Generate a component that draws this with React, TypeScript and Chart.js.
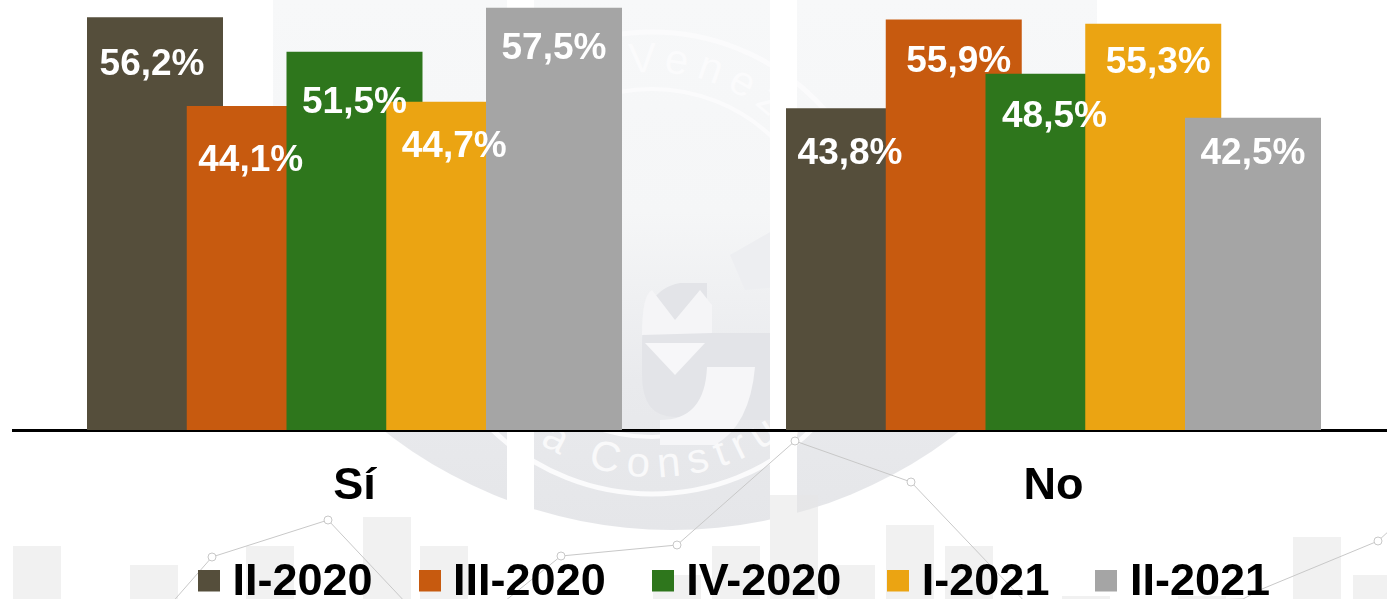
import React, { useEffect, useRef } from "react";
import { Chart, registerables } from "chart.js";

Chart.register(...registerables);

const categories = ["Sí", "No"];
const seriesNames = ["II-2020", "III-2020", "IV-2020", "I-2021", "II-2021"];
const ii2020 = [56.2, 43.8];
const iii2020 = [44.1, 55.9];
const iv2020 = [51.5, 48.5];
const i2021 = [44.7, 55.3];
const ii2021 = [57.5, 42.5];
const seriesValues = [ii2020, iii2020, iv2020, i2021, ii2021];
const seriesColors = ["#554E3B", "#C75A0F", "#2E761C", "#EBA412", "#A5A5A5"];

// hand-placed data label nudges (px from bar centre / top), one pair of arrays per series
const labelDx = [[-3, -4], [-4, 5], [0, 1], [0, 5], [0, 0]];
const labelDy = [[48, 46], [55, 42], [51, 43], [45, 39], [41, 36]];

const CANVAS_W = 1465;
const CANVAS_H = 615;
const AREA_LEFT = 13;
const GROUP_0 = 354.5;
const GROUP_STEP = 699;

const faintBars = [
  [13, 546], [130, 565], [246, 546], [363, 517], [420, 546], [653, 575], [712, 546], [770, 495],
  [827, 565], [886, 525], [945, 546], [1062, 596], [1178, 596], [1293, 537], [1353, 575],
];
const faintLine = [
  [170, 605], [212, 557], [328, 520], [408, 605], [500, 605], [561, 556], [677, 545], [795, 441],
  [911, 482], [1028, 605], [1243, 599], [1262, 589], [1378, 541], [1390, 530],
];
const faintDots = [[212, 557], [328, 520], [561, 556], [677, 545], [795, 441], [911, 482], [1378, 541]];

function swatch(color: string) {
  const c = document.createElement("canvas");
  c.width = 22;
  c.height = 26;
  const g = c.getContext("2d")!;
  g.fillStyle = color;
  g.fillRect(0, 0, 22, 22);
  return c;
}

const drawOrderAndLabels = {
  id: "drawOrderAndLabels",
  beforeDatasetsDraw(chart: any) {
    chart.getSortedVisibleDatasetMetas().forEach((m: any) => m.controller.draw());
    return false;
  },
  afterDraw(chart: any) {
    const ctx = chart.ctx;
    ctx.save();
    ctx.font = "bold 37px 'Liberation Sans'";
    ctx.fillStyle = "#FFFFFF";
    ctx.textAlign = "center";
    ctx.textBaseline = "middle";
    chart.data.datasets.forEach((ds: any, s: number) => {
      chart.getDatasetMeta(s).data.forEach((bar: any, i: number) => {
        const text = ds.data[i].y.toFixed(1).replace(".", ",") + "%";
        ctx.fillText(text, bar.x + labelDx[s][i], bar.y + labelDy[s][i]);
      });
    });
    ctx.restore();
  },
};

function Watermark() {
  return (
    <svg width={1387} height={599} style={{ position: "absolute", left: 0, top: 0 }}>
      <defs>
        <linearGradient id="wmFill" gradientUnits="userSpaceOnUse" x1="0" y1="0" x2="0" y2="530">
          <stop offset="0" stopColor="#F7F8F9" />
          <stop offset="0.4" stopColor="#F5F6F7" />
          <stop offset="0.72" stopColor="#E9EAED" />
          <stop offset="1" stopColor="#E5E6E9" />
        </linearGradient>
        <clipPath id="wmClip">
          <rect x={273} y={0} width={234} height={540} />
          <rect x={534} y={0} width={236} height={540} />
          <rect x={797} y={0} width={300} height={540} />
        </clipPath>
        <path id="wmTop" d="M 470 262 A 182 190 0 0 1 834 262" />
        <path id="wmBottom" d="M 440 262 A 215 215 0 0 0 870 262" />
      </defs>
      <g clipPath="url(#wmClip)">
        <circle cx={672} cy={62} r={468} fill="url(#wmFill)" />
        <circle cx={652} cy={263} r={231} fill="none" stroke="#FBFBFC" strokeWidth={5} />
        <circle cx={652} cy={263} r={174} fill="none" stroke="#FBFBFC" strokeWidth={4} />
        <text fontFamily="'Liberation Sans'" fontSize={42} fill="#FBFBFC" letterSpacing={9}>
          <textPath href="#wmTop" startOffset="46%">Venezuela</textPath>
        </text>
        <text fontFamily="'Liberation Sans'" fontSize={42} fill="#F9F9FA" letterSpacing={9}>
          <textPath href="#wmBottom" startOffset="32%">a Construye</textPath>
        </text>
        <path d="M 642 345 Q 642 290 680 283 L 707 283 L 707 333 L 770 333 L 770 420 L 707 420 Q 700 417 675 417 Q 642 417 642 375 Z" fill="#E3E4E8" />
        <path d="M 642 335 Q 642 295 652 290 L 675 320 L 700 290 L 712 305 L 712 333 Z" fill="#F5F5F7" />
        <path d="M 645 343 L 705 343 L 675 375 Z" fill="#F7F7F9" />
        <path d="M 707 367 L 755 367 Q 750 425 715 445 L 660 445 L 660 420 Q 705 420 707 367 Z" fill="#F6F6F8" />
        <path d="M 730 255 L 800 215 L 800 285 L 745 290 Z" fill="#EDEEF1" />
      </g>
      {faintBars.map(([x, y], i) => (
        <rect key={i} x={x} y={y} width={48} height={605 - y} fill="#E5E5E5" fillOpacity={0.55} />
      ))}
      <polyline points={faintLine.map((p) => p.join(",")).join(" ")} fill="none" stroke="#C8C8C8" strokeWidth={1} />
      {faintDots.map(([x, y], i) => (
        <circle key={i} cx={x} cy={y} r={4} fill="#FFFFFF" stroke="#C8C8C8" strokeWidth={1} />
      ))}
    </svg>
  );
}

export default function App() {
  const ref = useRef<HTMLCanvasElement>(null);

  useEffect(() => {
    document.body.style.margin = "0";
    const swatches = seriesColors.map(swatch);
    const chart = new Chart(ref.current!, {
      type: "bar",
      data: {
        datasets: seriesNames.map((name, s) => ({
          label: name,
          data: seriesValues[s].map((v, i) => ({ x: i, y: v })),
          backgroundColor: seriesColors[s],
          borderWidth: 0,
          categoryPercentage: 0.7135,
          barPercentage: 1.3634,
        })),
      },
      options: {
        responsive: false,
        animation: false,
        layout: { padding: { left: AREA_LEFT, right: 0, top: 0, bottom: 0 } },
        plugins: {
          tooltip: { enabled: false },
          legend: {
            position: "bottom",
            labels: {
              usePointStyle: true,
              pointStyleWidth: 2,
              padding: 56,
              color: "#000000",
              font: { family: "'Liberation Sans'", size: 45, weight: "bold", lineHeight: 1 },
              generateLabels: (c: any) =>
                Chart.defaults.plugins.legend.labels
                  .generateLabels(c)
                  .map((item: any, i: number) => ({ ...item, pointStyle: swatches[i] })),
            },
          },
        },
        scales: {
          x: {
            type: "linear",
            min: (AREA_LEFT - GROUP_0) / GROUP_STEP,
            max: (CANVAS_W - GROUP_0) / GROUP_STEP,
            offset: false,
            afterBuildTicks: (axis: any) => {
              axis.ticks = categories.map((_, i) => ({ value: i }));
            },
            afterFit: (axis: any) => {
              axis.height = 74;
            },
            grid: { display: false, drawTicks: false },
            border: { display: true, color: "#000000", width: 3 },
            ticks: {
              autoSkip: false,
              maxRotation: 0,
              padding: 34,
              color: "#000000",
              font: { family: "'Liberation Sans'", size: 45, weight: "bold", lineHeight: 1 },
              callback: (v: any) => categories[v] ?? "",
            },
          },
          y: { display: false, min: 0, max: 58.54 },
        },
      },
      plugins: [drawOrderAndLabels],
    } as any);
    return () => chart.destroy();
  }, []);

  return (
    <div style={{ position: "relative", width: 1387, height: 599, overflow: "hidden", background: "#FFFFFF" }}>
      <Watermark />
      <canvas
        ref={ref}
        width={CANVAS_W}
        height={CANVAS_H}
        style={{ position: "absolute", left: 0, top: 0 }}
      />
    </div>
  );
}
